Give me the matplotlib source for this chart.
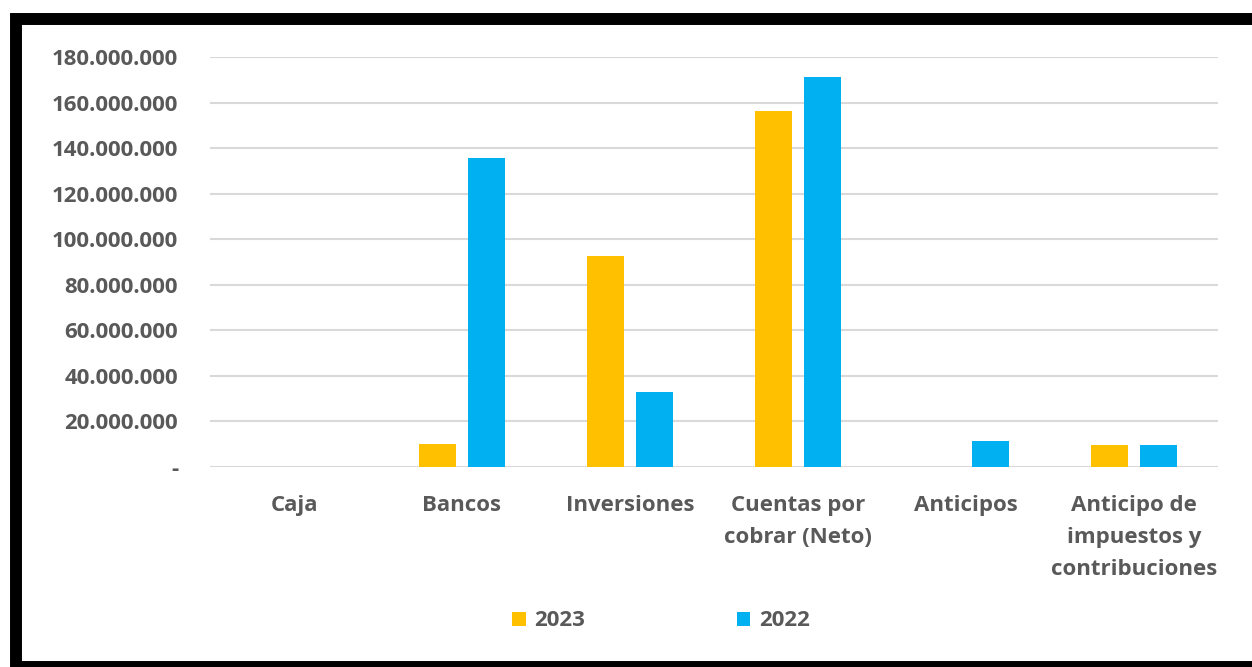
import matplotlib.pyplot as plt
import numpy as np
from matplotlib.patches import Rectangle
from matplotlib.ticker import FuncFormatter

plt.rcParams['font.family'] = ['Open Sans', 'DejaVu Sans']

categorias = ['Caja', 'Bancos', 'Inversiones', 'Cuentas por\ncobrar (Neto)',
              'Anticipos', 'Anticipo de\nimpuestos y\ncontribuciones']
v2023 = [0, 10_000_000, 92_700_000, 156_500_000, 0, 9_800_000]
v2022 = [0, 135_700_000, 33_000_000, 171_000_000, 11_400_000, 9_800_000]

naranja = '#FFC000'
azul = '#00B0F0'
gris = '#595959'

fig = plt.figure(figsize=(12.52, 6.67), dpi=100)
ax = fig.add_axes([210/1252, 1 - 467/667, 1008/1252, 410/667])

x = np.arange(len(categorias))
ax.bar(x - 0.146, v2023, width=0.22, color=naranja, label='2023', zorder=3)
ax.bar(x + 0.146, v2022, width=0.22, color=azul, label='2022', zorder=3)

ax.set_xlim(-0.5, len(categorias) - 0.5)
ax.set_ylim(0, 180_000_000)
ax.set_yticks(np.arange(0, 180_000_001, 20_000_000))

def fmt(v, pos):
    if v == 0:
        return '-'
    return f'{int(v):,}'.replace(',', '.')

ax.yaxis.set_major_formatter(FuncFormatter(fmt))
ax.set_xticks(x)
ax.set_xticklabels(categorias, linespacing=1.7)

for s in ax.spines.values():
    s.set_visible(False)
ax.grid(axis='y', color='#D9D9D9', linewidth=1.5, zorder=0)
ax.tick_params(axis='both', length=0, labelsize=16, labelcolor=gris)
ax.tick_params(axis='y', pad=23)
ax.tick_params(axis='x', pad=20)
for lab in ax.get_xticklabels() + ax.get_yticklabels():
    lab.set_fontweight('bold')

leg = fig.legend(loc='center', bbox_to_anchor=(661/1252, 1 - 621/667), ncol=2,
                 frameon=False, handlelength=0.6, handleheight=0.6,
                 handletextpad=0.4, columnspacing=6.8,
                 prop={'size': 16, 'weight': 'bold'})
for t in leg.get_texts():
    t.set_color(gris)

# marco negro alrededor del grafico
fig.patches.append(Rectangle((16/1252, 1 - 667/667), 1240/1252, 648/667,
                             transform=fig.transFigure, fill=False,
                             edgecolor='black', linewidth=8.6))

fig.savefig('out.png', dpi=100)
